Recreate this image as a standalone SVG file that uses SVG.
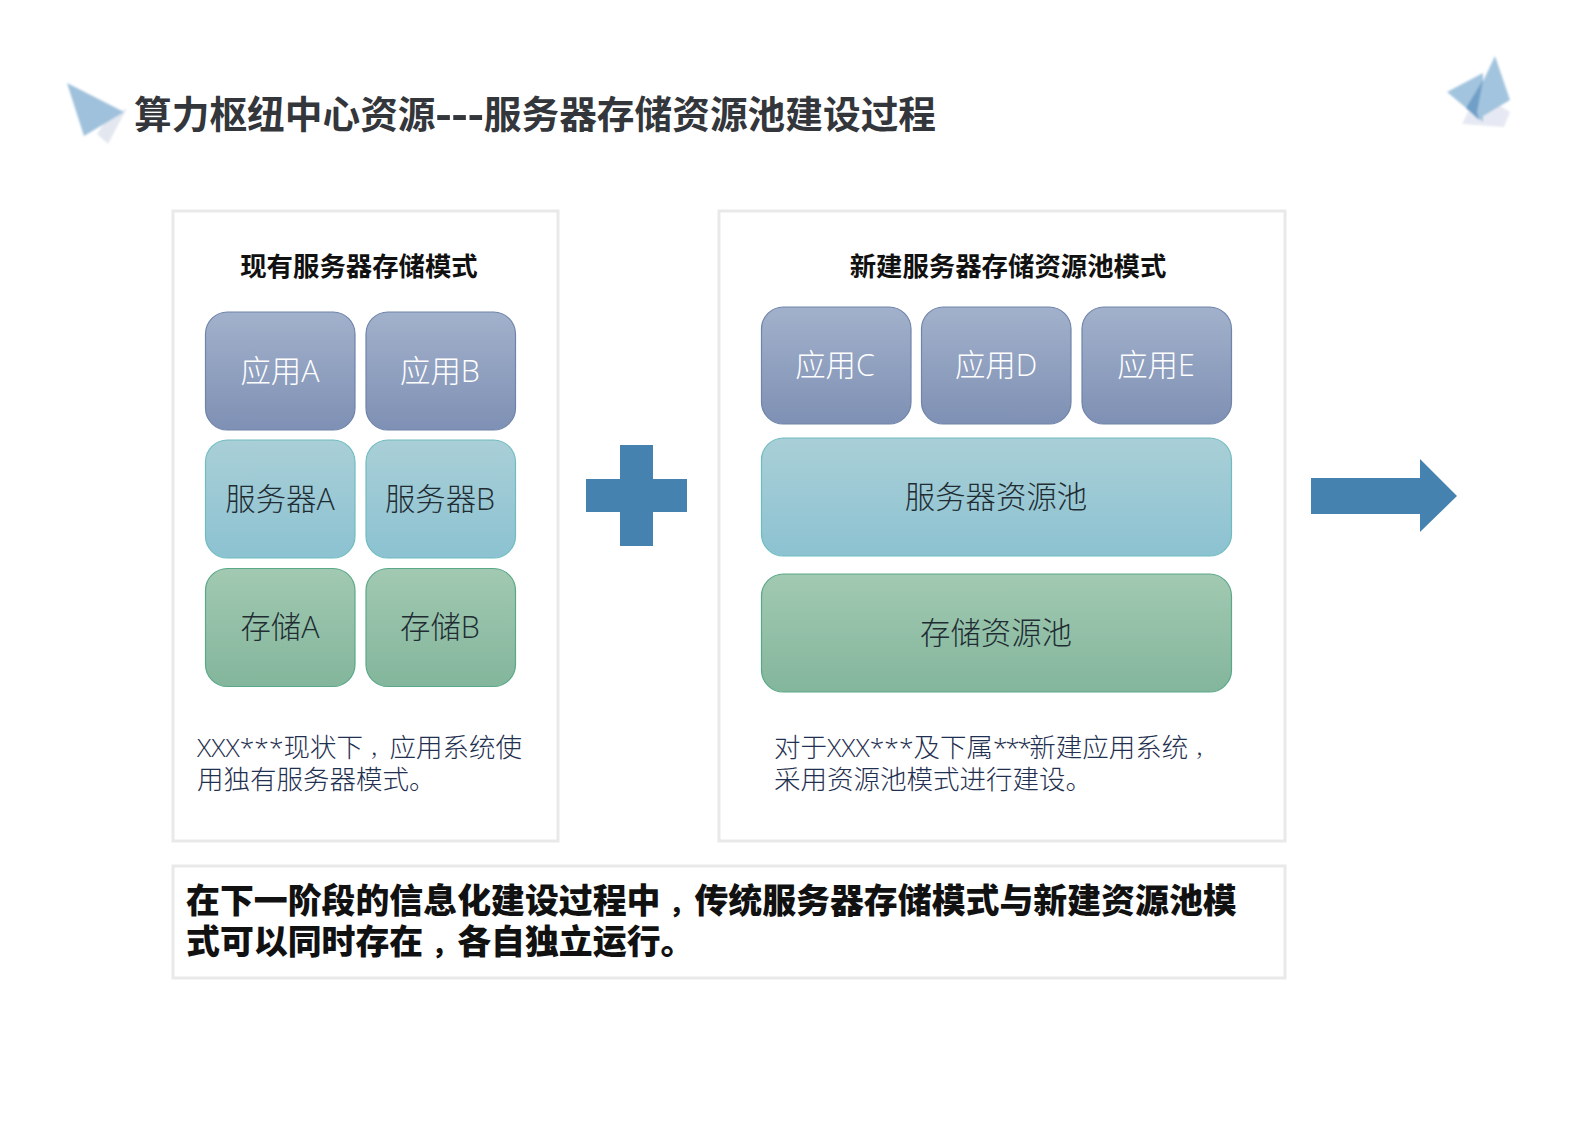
<svg xmlns="http://www.w3.org/2000/svg" width="1587" height="1122" viewBox="0 0 1587 1122">
<defs>
<linearGradient id="gApp" x1="0" y1="0" x2="0" y2="1"><stop offset="0" stop-color="#a2b1cb"/><stop offset="1" stop-color="#7e90b4"/></linearGradient>
<linearGradient id="gSrv" x1="0" y1="0" x2="0" y2="1"><stop offset="0" stop-color="#a9cfd7"/><stop offset="1" stop-color="#8cc2d1"/></linearGradient>
<linearGradient id="gSto" x1="0" y1="0" x2="0" y2="1"><stop offset="0" stop-color="#a2c9b2"/><stop offset="1" stop-color="#83b69c"/></linearGradient>
<filter id="soft" x="-20%" y="-20%" width="140%" height="140%"><feGaussianBlur stdDeviation="1.2"/></filter>
</defs>
<style>
text{font-family:"Open Sans","Noto Sans CJK SC","Liberation Sans",sans-serif}
.panel{fill:#fff;stroke:#e9e9e9;stroke-width:3}
.app{fill:url(#gApp);stroke:#6f84aa;stroke-width:1.2}
.srv{fill:url(#gSrv);stroke:#6fbcc0;stroke-width:1.2}
.sto{fill:url(#gSto);stroke:#5aa888;stroke-width:1.2}
.lbl{font-size:30.4px;text-anchor:middle;font-weight:300}
.w{fill:#ffffff}
.d{fill:#1f2d33}
.head{font-size:26.4px;font-weight:700;fill:#111;text-anchor:middle}
.note{font-size:26.5px;fill:#1f3050;font-weight:300}
.big{font-size:33.9px;font-weight:900;fill:#111}
.c{font-size:75%}
.blue{fill:#4682b0}
</style>
<rect width="1587" height="1122" fill="#fff"/>
<g id="title-deco" filter="url(#soft)">
<polygon points="97,134 108,144 127,108 105,122" fill="#e3e7ef"/>
<polygon points="67,83 124,112 84,136" fill="#9fc1dc"/>
<polygon points="1462,124 1478,92 1510,112 1504,127" fill="#e6e9f3"/>
<polygon points="1447,92 1483,73 1483,122" fill="#a3c4de"/>
<polygon points="1495,56 1510,100 1480,118 1478,92" fill="#a3c4de"/>
<polygon points="1483,80 1477,112 1479,120 1466,108" fill="#6f9fc8"/>
</g>
<text id="title" x="134" y="128" font-size="37.7" font-weight="700" fill="#33363b">算力枢纽中心资源<tspan font-size="50" font-weight="600" dy="3">---</tspan><tspan dy="-3">服务器存储资源池建设过程</tspan></text>
<g id="panel-left">
<rect class="panel" x="173" y="211" width="385" height="630"/>
<text class="head" x="359" y="276">现有服务器存储模式</text>
<text class="note" x="197" y="757">XXX***现状下<tspan class="c" dx="6.6">，</tspan>应用系统使</text>
<text class="note" x="197" y="789">用独有服务器模式。</text>
</g>
<g id="panel-right">
<rect class="panel" x="719" y="211" width="566" height="630"/>
<text class="head" x="1008" y="276">新建服务器存储资源池模式</text>
<text class="note" x="774" y="757">对于XXX***及下属<tspan letter-spacing="-2.5">***</tspan>新建应用系统<tspan class="c" dx="6.6">，</tspan></text>
<text class="note" x="774" y="789">采用资源池模式进行建设。</text>
</g>
<g id="node-app-a"><rect class="app" x="205.5" y="312" width="149.5" height="118" rx="22"/><text class="lbl w" x="280" y="382">应用A</text></g>
<g id="node-app-b"><rect class="app" x="366" y="312" width="149.5" height="118" rx="22"/><text class="lbl w" x="440" y="382">应用B</text></g>
<g id="node-srv-a"><rect class="srv" x="205.5" y="440" width="149.5" height="118" rx="22"/><text class="lbl d" x="280" y="510">服务器A</text></g>
<g id="node-srv-b"><rect class="srv" x="366" y="440" width="149.5" height="118" rx="22"/><text class="lbl d" x="440" y="510">服务器B</text></g>
<g id="node-sto-a"><rect class="sto" x="205.5" y="568.5" width="149.5" height="118" rx="22"/><text class="lbl d" x="280" y="638">存储A</text></g>
<g id="node-sto-b"><rect class="sto" x="366" y="568.5" width="149.5" height="118" rx="22"/><text class="lbl d" x="440" y="638">存储B</text></g>
<g id="node-app-c"><rect class="app" x="761.5" y="307" width="149.5" height="117" rx="22"/><text class="lbl w" x="835" y="376">应用C</text></g>
<g id="node-app-d"><rect class="app" x="921.5" y="307" width="149.5" height="117" rx="22"/><text class="lbl w" x="996" y="376">应用D</text></g>
<g id="node-app-e"><rect class="app" x="1082" y="307" width="149.5" height="117" rx="22"/><text class="lbl w" x="1156" y="376">应用E</text></g>
<g id="node-srv-pool"><rect class="srv" x="761.5" y="438" width="470" height="118" rx="22"/><text class="lbl d" x="996" y="508">服务器资源池</text></g>
<g id="node-sto-pool"><rect class="sto" x="761.5" y="574" width="470" height="118" rx="22"/><text class="lbl d" x="996" y="644">存储资源池</text></g>
<g id="connectors">
<polygon class="blue" points="620,445 653,445 653,479 687,479 687,512 653,512 653,546 620,546 620,512 586,512 586,479 620,479"/>
<polygon class="blue" points="1311,478 1420,478 1420,459 1457,496 1420,532 1420,514 1311,514"/>
</g>
<g id="summary">
<rect class="panel" x="173" y="866" width="1112" height="112"/>
<text class="big" x="186" y="913">在下一阶段的信息化建设过程中<tspan class="c" dx="8.5">，</tspan>传统服务器存储模式与新建资源池模</text>
<text class="big" x="186" y="954">式可以同时存在<tspan class="c" dx="8.5">，</tspan>各自独立运行。</text>
</g>
</svg>
